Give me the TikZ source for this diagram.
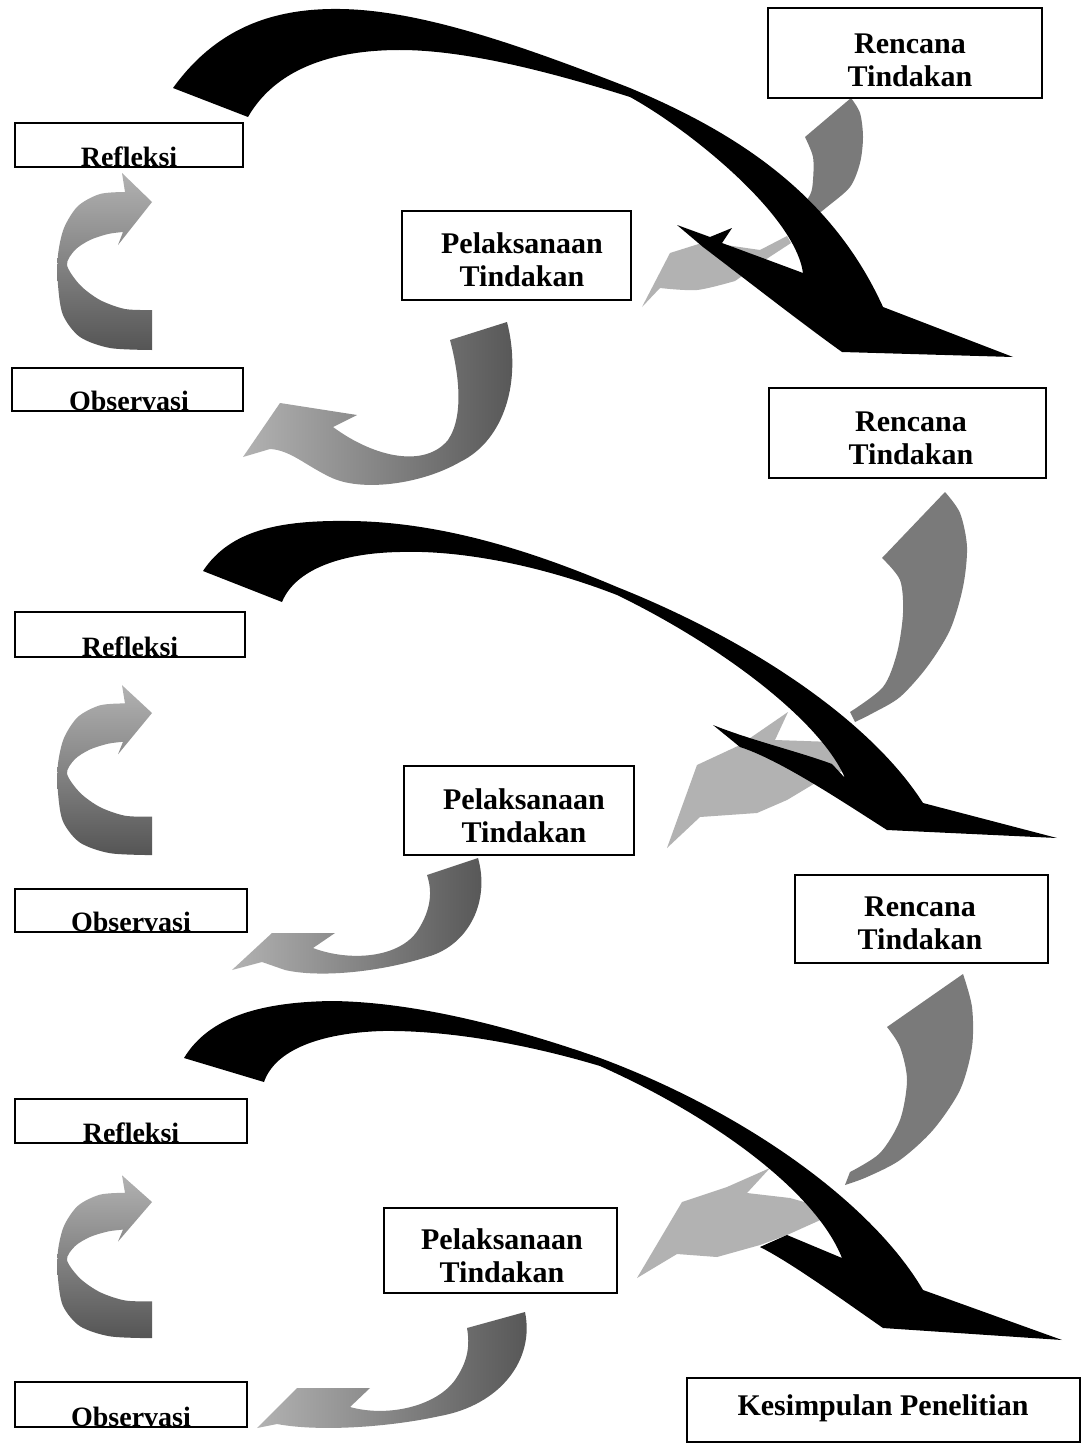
\documentclass[tikz,border=0pt]{standalone}
\usepackage{fontspec}
\setmainfont{Liberation Serif}
\usetikzlibrary{fit}
\definecolor{gdark}{HTML}{555555}
\definecolor{gmid}{HTML}{7A7A7A}
\definecolor{glight}{HTML}{B2B2B2}
\tikzset{
  box/.style={draw=black, line width=0.7pt, inner sep=0pt, fill=white},
  lbl/.style={font=\bfseries\fontsize{15}{16.5}\selectfont, align=center, inner sep=0pt},
  lblsm/.style={font=\bfseries\fontsize{14}{15}\selectfont, inner sep=0pt, anchor=base},
  refshade/.style={top color=glight, bottom color=gdark},
  obsshade/.style={left color=glight, right color=gdark},
  tailfill/.style={fill=gmid},
  headfill/.style={fill=glight},
  blackarrow/.style={fill=black}
}
\newcommand{\RefArrowShape}{%
  \shade[refshade] (0,0) -- (-30,-29) -- (-27,-10)
    -- plot[smooth] coordinates {(-27,-10)(-52,-8)(-74,4)(-88,26)(-94,53)(-94,83)(-89,113)(-72,135)(-42,146)(0,148)}
    -- (0,108)
    -- plot[smooth] coordinates {(0,108)(-27,107)(-52,98)(-72,83)(-85,63)(-77,48)(-62,38)(-44,32)(-29,30)}
    -- (-34,43) -- cycle;}
\begin{document}
\begin{tikzpicture}[x=0.5pt,y=-0.5pt]
\useasboundingbox (0,0) rectangle (1088,1445);
\fill[white] (0,0) rectangle (1088,1445);

% ===================== Section 1 =====================
\fill[tailfill] (851,98) -- plot[smooth] coordinates {(851,98)(860,113)(863,137)(860,163)(850,187)(827,207)(808,222)}
  -- (796,214) -- plot[smooth] coordinates {(796,214)(810,195)(813,180)(813,157)(805,137)} -- cycle;
\fill[headfill] (642,307) -- (670,253) -- (705,242) -- (760,250) -- (787,236) -- (791,243) -- (768,258) -- (735,281)
  -- plot[smooth] coordinates {(735,281)(697,290)(660,288)} -- cycle;
\fill[blackarrow] (173,88) .. controls (215,30) and (270,8) .. (340,9)
  .. controls (420,10) and (520,45) .. (630,88)
  .. controls (730,130) and (830,190) .. (883,307)
  -- (1013,357) -- (842,352)
  .. controls (800,322) and (740,275) .. (703,247)
  -- (677,225) -- (710,237) -- (732,228) -- (722,243) -- (768,260) -- (803,273)
  .. controls (795,215) and (690,130) .. (630,97)
  .. controls (560,75) and (470,50) .. (400,50)
  .. controls (330,50) and (275,70) .. (248,117)
  -- cycle;
\begin{scope}[shift={(152,202)}]\RefArrowShape\end{scope}
\shade[obsshade] (243,457) -- (280,403) -- (357,415) -- (333,427)
  .. controls (375,458) and (425,468) .. (448,440)
  .. controls (465,415) and (458,370) .. (450,340)
  -- (507,322)
  .. controls (522,380) and (505,440) .. (460,462)
  .. controls (420,485) and (360,492) .. (330,477)
  .. controls (305,465) and (290,450) .. (270,449)
  -- cycle;

% ===================== Section 2 =====================
\fill[tailfill] (945,492) -- plot[smooth] coordinates {(945,492)(960,513)(967,547)(963,587)(950,630)(927,667)(900,697)(873,713)(855,722)}
  -- (850,712) -- plot[smooth] coordinates {(850,712)(883,687)(897,653)(903,613)(900,580)(882,558)} -- cycle;
\fill[headfill] (667,848) -- (697,765) -- (740,745) -- (788,712) -- (775,740) -- (833,742) -- (845,770) -- (817,782) -- (787,800) -- (757,813) -- (700,817) -- cycle;
\fill[blackarrow] (203,571) .. controls (230,530) and (280,520) .. (350,521)
  .. controls (440,522) and (530,550) .. (617,587)
  .. controls (750,640) and (870,720) .. (923,803)
  -- (1057,838) -- (887,830)
  .. controls (840,800) and (780,760) .. (740,747)
  -- (713,725)
  .. controls (750,740) and (800,752) .. (832,764)
  -- (845,778)
  .. controls (820,720) and (720,645) .. (617,595)
  .. controls (540,565) and (460,550) .. (400,552)
  .. controls (340,553) and (295,570) .. (282,602)
  -- cycle;
\begin{scope}[shift={(152,713)}, yscale=0.96]\RefArrowShape\end{scope}
\shade[obsshade] (232,970) -- (272,933) -- (335,933) -- (313,948)
  .. controls (350,962) and (400,958) .. (418,930)
  .. controls (432,908) and (432,890) .. (427,875)
  -- (478,858)
  .. controls (490,900) and (470,945) .. (427,957)
  .. controls (380,972) and (320,978) .. (285,970)
  -- (262,962) -- cycle;

% ===================== Section 3 =====================
\fill[tailfill] (963,974) -- plot[smooth] coordinates {(963,974)(972,1007)(972,1047)(960,1090)(933,1130)(900,1160)(867,1177)(845,1185)}
  -- (850,1172) -- plot[smooth] coordinates {(850,1172)(880,1153)(900,1120)(907,1080)(900,1047)(887,1027)} -- cycle;
\fill[headfill] (637,1278) -- (682,1202) -- (727,1187) -- (770,1168) -- (747,1193) -- (790,1198) -- (815,1205) -- (827,1217) -- (787,1235) -- (760,1245) -- (717,1257) -- (677,1254) -- cycle;
\fill[blackarrow] (184,1058) .. controls (210,1015) and (265,1002) .. (332,1001)
  .. controls (420,1002) and (520,1030) .. (600,1058)
  .. controls (740,1110) and (870,1200) .. (923,1290)
  -- (1062,1340) -- (883,1328)
  .. controls (840,1298) and (790,1262) .. (760,1247)
  -- (787,1235) -- (842,1258)
  .. controls (815,1190) and (710,1115) .. (600,1066)
  .. controls (530,1045) and (450,1030) .. (382,1031)
  .. controls (320,1033) and (275,1050) .. (264,1082)
  -- cycle;
\begin{scope}[shift={(152,1202)}, yscale=0.92]\RefArrowShape\end{scope}
\shade[obsshade] (257,1428) -- (297,1388) -- (370,1388) -- (350,1407)
  .. controls (390,1418) and (440,1405) .. (457,1377)
  .. controls (468,1360) and (470,1345) .. (467,1328)
  -- (525,1312)
  .. controls (535,1360) and (500,1405) .. (440,1416)
  .. controls (390,1427) and (320,1432) .. (277,1424)
  -- cycle;

% ===================== Boxes =====================
\node[box, fit={(768,8) (1042,98)}] (ren1) {};
\node[lbl] (ren1t) at (910,60) {Rencana\\Tindakan};
\node[box, fit={(15,123) (243,167)}] (ref1) {};
\begin{scope}\clip (ref1.south west) rectangle (ref1.north east);
\node[lblsm] (ref1t) at (129,166) {Refleksi};\end{scope}
\node[box, fit={(402,211) (631,300)}] (pel1) {};
\node[lbl] (pel1t) at (522,260) {Pelaksanaan\\Tindakan};
\node[box, fit={(12,368) (243,411)}] (obs1) {};
\begin{scope}\clip (obs1.south west) rectangle (obs1.north east);
\node[lblsm] (obs1t) at (129,410) {Observasi};\end{scope}
\node[box, fit={(769,388) (1046,478)}] (ren2) {};
\node[lbl] (ren2t) at (911,438) {Rencana\\Tindakan};

\node[box, fit={(15,612) (245,657)}] (ref2) {};
\begin{scope}\clip (ref2.south west) rectangle (ref2.north east);
\node[lblsm] (ref2t) at (130,656) {Refleksi};\end{scope}
\node[box, fit={(404,766) (634,855)}] (pel2) {};
\node[lbl] (pel2t) at (524,816) {Pelaksanaan\\Tindakan};
\node[box, fit={(15,889) (247,932)}] (obs2) {};
\begin{scope}\clip (obs2.south west) rectangle (obs2.north east);
\node[lblsm] (obs2t) at (131,931) {Observasi};\end{scope}
\node[box, fit={(795,875) (1048,963)}] (ren3) {};
\node[lbl] (ren3t) at (920,923) {Rencana\\Tindakan};

\node[box, fit={(15,1099) (247,1143)}] (ref3) {};
\begin{scope}\clip (ref3.south west) rectangle (ref3.north east);
\node[lblsm] (ref3t) at (131,1142) {Refleksi};\end{scope}
\node[box, fit={(384,1208) (617,1293)}] (pel3) {};
\node[lbl] (pel3t) at (502,1256) {Pelaksanaan\\Tindakan};
\node[box, fit={(15,1382) (247,1427)}] (obs3) {};
\begin{scope}\clip (obs3.south west) rectangle (obs3.north east);
\node[lblsm] (obs3t) at (131,1426) {Observasi};\end{scope}
\node[box, fit={(687,1378) (1080,1442)}] (kes) {};
\node[lbl] (kest) at (883,1408) {Kesimpulan Penelitian};
\end{tikzpicture}
\end{document}
